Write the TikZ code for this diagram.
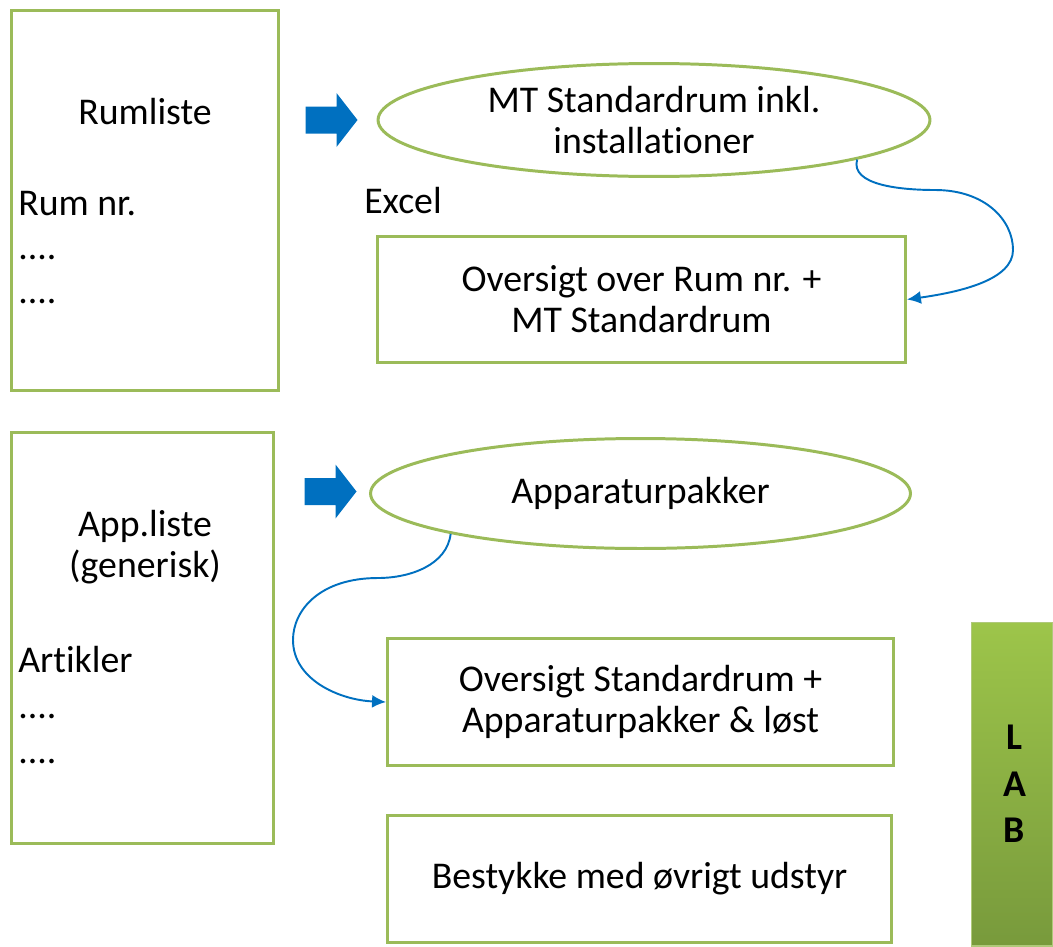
\documentclass[tikz,border=0pt]{standalone}
\usepackage{fontspec}
\setmainfont{Carlito}[Ligatures=NoCommon]
\usetikzlibrary{shapes.geometric,arrows.meta,positioning}

\definecolor{olivegreen}{RGB}{155,187,89}
\definecolor{flowblue}{RGB}{0,112,192}
\definecolor{labtop}{RGB}{157,197,74}
\definecolor{labbottom}{RGB}{120,154,60}

\newcommand{\blockarrow}[1]{%
  \fill[flowblue, shift={#1}] (-26,-13.5) -- (5,-13.5) -- (5,-27) -- (26,0) -- (5,27) -- (5,13.5) -- (-26,13.5) -- cycle;}

\begin{document}
\begin{tikzpicture}[
    x=0.02cm, y=-0.02cm,
    font=\fontsize{21.5}{23.3}\selectfont,
    listbox/.style={rectangle, draw=olivegreen, line width=1.7pt, inner sep=0pt},
    stepbox/.style={rectangle, draw=olivegreen, line width=1.7pt, minimum height=2.53cm, align=center, inner sep=0pt},
    oval/.style={ellipse, draw=olivegreen, line width=1.7pt, inner sep=0pt, align=center},
    entry/.style={anchor=base west, inner sep=0pt},
    flow/.style={-{Latex[length=0.28cm, width=0.26cm]}, draw=flowblue, line width=1.1pt}
]
\useasboundingbox (0,0) rectangle (1053,946);

% Lists on the left
\node[listbox, minimum width=5.34cm, minimum height=7.62cm] (rumliste) at (145,200.5) {};
\node (rumtitle) at (145,112) {Rumliste};
\node[entry] (rumnr) at (18,215) {Rum nr.};
\node[entry] (rumdots1) at (18,259) {....};
\node[entry] (rumdots2) at (18,303) {....};

\node[listbox, minimum width=5.24cm, minimum height=8.22cm] (appliste) at (142.5,638) {};
\node[align=center] (apptitle) at (145,547) {App.liste\\(generisk)};
\node[entry] (artikler) at (18,672) {Artikler};
\node[entry] (appdots1) at (18,718) {....};
\node[entry] (appdots2) at (18,763) {....};

% Block arrows
\blockarrow{(331.5,120)}
\blockarrow{(330.5,491.5)}

% Ellipses
\node[oval, minimum width=11.04cm, minimum height=2.26cm] (standardrum) at (654,120) {MT Standardrum inkl.\\installationer};
\node[oval, minimum width=10.8cm, minimum height=2.2cm] (apparatur) at (640.5,493.5) {Apparaturpakker};

\node (excel) at (403,201) {Excel};

% Result boxes
\node[stepbox, minimum width=10.56cm] (oversigtrum) at (641.5,299.5) {Oversigt over Rum nr. +\\MT Standardrum};
\node[stepbox, minimum width=10.12cm] (oversigtapp) at (640.5,702) {Oversigt Standardrum +\\Apparaturpakker \& løst};
\node[stepbox, minimum width=10.08cm] (bestykke) at (639.5,879) {Bestykke med øvrigt udstyr};

% LAB bar
\node[rectangle, draw=olivegreen!80, line width=0.6pt, top color=labtop, bottom color=labbottom,
      minimum width=1.64cm, minimum height=6.48cm, align=center, text depth=0pt,
      font=\fontsize{21.5}{26.5}\selectfont\bfseries] (lab) at (1012,784) {\hspace*{0.1cm}L\\\hspace*{0.1cm}A\\\hspace*{0.1cm}B};

% Curved connectors
\draw[flow] (standardrum.-11.7) .. controls (850,185) and (900,190) .. (935,190)
    .. controls (985,190) and (1013,220) .. (1013,250)
    .. controls (1013,280) and (960,292) .. (oversigtrum.east);
\draw[flow] (apparatur.-168.5) .. controls (447,565) and (410,578) .. (378,578)
    .. controls (320,578) and (293,610) .. (293,640)
    .. controls (293,680) and (340,700) .. (oversigtapp.west);

\end{tikzpicture}
\end{document}
